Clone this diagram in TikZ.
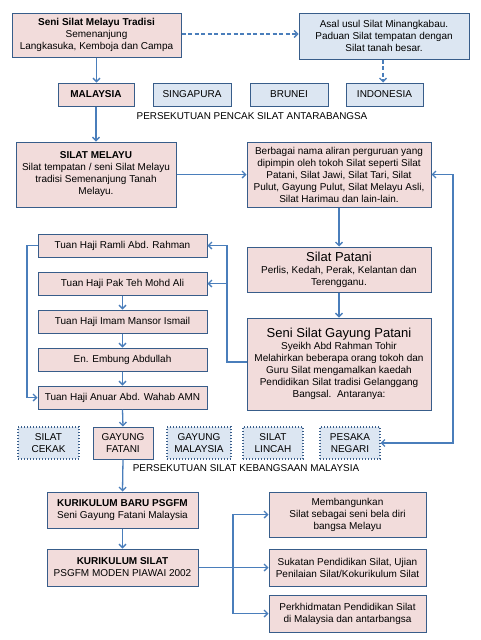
\documentclass[tikz,border=0pt]{standalone}
\usepackage{fontspec}
\setmainfont{Liberation Sans}
\usetikzlibrary{arrows.meta}
\definecolor{pinkf}{HTML}{F2DCDB}
\definecolor{bluef}{HTML}{DCE6F2}
\definecolor{bord}{HTML}{385D8A}
\definecolor{arrc}{HTML}{4A7EBB}
\begin{document}
\begin{tikzpicture}[x=1pt,y=-1pt,
  base/.style={draw=bord, line width=1pt, align=center, inner sep=1pt, font=\fontsize{10}{12}\selectfont, text=black},
  pinkbox/.style={base, fill=pinkf},
  bluebox/.style={base, fill=bluef},
  dotbox/.style={base, fill=bluef, dotted, line width=1.1pt},
  arr/.style={draw=arrc, line width=1.3pt, -{Straight Barb[length=3.5pt,width=7pt]}},
  darr/.style={arr, dashed, dash pattern=on 4pt off 2.5pt},
  lbl/.style={font=\fontsize{9.9}{11}\selectfont}
]
\useasboundingbox[fill=white] (0,0) rectangle (480,640);

\node[pinkbox, minimum width=169, minimum height=44] (b1) at (96.5,35) {\textbf{Seni Silat Melayu Tradisi}\\Semenanjung\\Langkasuka, Kemboja dan Campa};
\node[bluebox, minimum width=170, minimum height=46] (asal) at (384,36) {Asal usul Silat Minangkabau.\\Paduan Silat tempatan dengan\\Silat tanah besar.};
\node[pinkbox, minimum width=76, minimum height=23] (malaysia) at (96,94.5) {\textbf{MALAYSIA}};
\node[bluebox, minimum width=78, minimum height=23] (singapura) at (192,94.5) {SINGAPURA};
\node[bluebox, minimum width=78, minimum height=23] (brunei) at (289,94.5) {BRUNEI};
\node[bluebox, minimum width=77, minimum height=23] (indonesia) at (384.5,94.5) {INDONESIA};
\node[lbl] (ppsa) at (252,116) {PERSEKUTUAN PENCAK SILAT ANTARABANGSA};

\node[pinkbox, minimum width=160, minimum height=65] (sm) at (96,174.5) {\textbf{SILAT MELAYU}\\Silat tempatan / seni Silat Melayu\\tradisi Semenanjung Tanah\\Melayu.};
\node[pinkbox, minimum width=184, minimum height=65] (berbagai) at (339,174.5) {Berbagai nama aliran perguruan yang\\dipimpin oleh tokoh Silat seperti Silat\\Patani, Silat Jawi, Silat Tari, Silat\\Pulut, Gayung Pulut, Silat Melayu Asli,\\Silat Harimau dan lain-lain.};
\node[pinkbox, minimum width=184, minimum height=45] (patani) at (339,269.5) {{\fontsize{13}{15}\selectfont Silat Patani}\\Perlis, Kedah, Perak, Kelantan dan\\Terengganu.};
\node[pinkbox, minimum width=184, minimum height=92] (gp) at (339,364) {{\fontsize{13}{15}\selectfont Seni Silat Gayung Patani}\\Syeikh Abd Rahman Tohir\\Melahirkan beberapa orang tokoh dan\\Guru Silat mengamalkan kaedah\\Pendidikan Silat tradisi Gelanggang\\Bangsal.\ \ Antaranya:};

\node[pinkbox, minimum width=169, minimum height=23] (ramli) at (122.5,245.5) {Tuan Haji Ramli Abd. Rahman};
\node[pinkbox, minimum width=169, minimum height=23] (pakteh) at (122.5,283.5) {Tuan Haji Pak Teh Mohd Ali};
\node[pinkbox, minimum width=169, minimum height=23] (imam) at (122.5,321.5) {Tuan Haji Imam Mansor Ismail};
\node[pinkbox, minimum width=169, minimum height=23] (embung) at (122.5,359.5) {En. Embung Abdullah};
\node[pinkbox, minimum width=169, minimum height=23] (anuar) at (122.5,397.5) {Tuan Haji Anuar Abd. Wahab AMN};

\node[dotbox, minimum width=61, minimum height=32] (cekak) at (48.5,443) {SILAT\\CEKAK};
\node[pinkbox, minimum width=60, minimum height=32] (fatani) at (123,443) {GAYUNG\\FATANI};
\node[dotbox, minimum width=64, minimum height=32] (gm) at (199,443) {GAYUNG\\MALAYSIA};
\node[dotbox, minimum width=60, minimum height=32] (lincah) at (273,443) {SILAT\\LINCAH};
\node[dotbox, minimum width=60, minimum height=32] (pesaka) at (350,443) {PESAKA\\NEGARI};
\node[lbl] (psk) at (246,468) {PERSEKUTUAN SILAT KEBANGSAAN MALAYSIA};

\node[pinkbox, minimum width=151, minimum height=36] (kbaru) at (122.5,510) {\textbf{KURIKULUM BARU PSGFM}\\Seni Gayung Fatani Malaysia};
\node[pinkbox, minimum width=151, minimum height=37] (ksilat) at (122.5,567.5) {\textbf{KURIKULUM SILAT}\\PSGFM MODEN PIAWAI 2002};
\node[pinkbox, minimum width=157, minimum height=45] (r1) at (347.5,514.5) {Membangunkan\\Silat sebagai seni bela diri\\bangsa Melayu};
\node[pinkbox, minimum width=157, minimum height=37] (r2) at (347.5,567.5) {Sukatan Pendidikan Silat, Ujian\\Penilaian Silat/Kokurikulum Silat};
\node[pinkbox, minimum width=157, minimum height=37] (r3) at (347.5,613.5) {Perkhidmatan Pendidikan Silat\\di Malaysia dan antarbangsa};

\coordinate (jx) at (227,0);
\coordinate (lx) at (27,0);
\coordinate (rx) at (453,0);
\coordinate (kx) at (233,0);

\draw[arr] (b1.south) -- (b1.south |- malaysia.north);
\draw[darr] (b1.east |- 0,34) -- (asal.west |- 0,34);
\draw[darr] (asal.south -| 383,0) -- (indonesia.north -| 383,0);
\draw[arr] (malaysia.south) -- (malaysia.south |- sm.north);
\draw[arr] (sm.east) -- (berbagai.west);
\draw[arr] (berbagai.south) -- (patani.north);
\draw[arr] (patani.south) -- (gp.north);
\draw[arr] (gp.west |- 0,362) -- (jx |- 0,362) |- (ramli.east);
\draw[arr] (pakteh.east -| jx) -- (pakteh.east);
\draw[arr] (ramli.west) -- (ramli.west -| lx) |- (anuar.west);
\draw[arr] (pakteh.south) -- (imam.north);
\draw[arr] (imam.south) -- (embung.north);
\draw[arr] (embung.south) -- (anuar.north);
\draw[arr] (anuar.south) -- (fatani.north);
\draw[arr, {Straight Barb[length=3.5pt,width=7pt]}-{Straight Barb[length=3.5pt,width=7pt]}] (berbagai.east) -- (berbagai.east -| rx) |- (pesaka.east);
\draw[arr] (fatani.south) -- (kbaru.north);
\draw[arr] (kbaru.south) -- (ksilat.north);
\draw[arr] (ksilat.east) -- (ksilat.east -| kx) |- (r1.west);
\draw[arr] (ksilat.east) -- (r2.west);
\draw[arr] (ksilat.east -| kx) |- (r3.west);
\end{tikzpicture}
\end{document}
